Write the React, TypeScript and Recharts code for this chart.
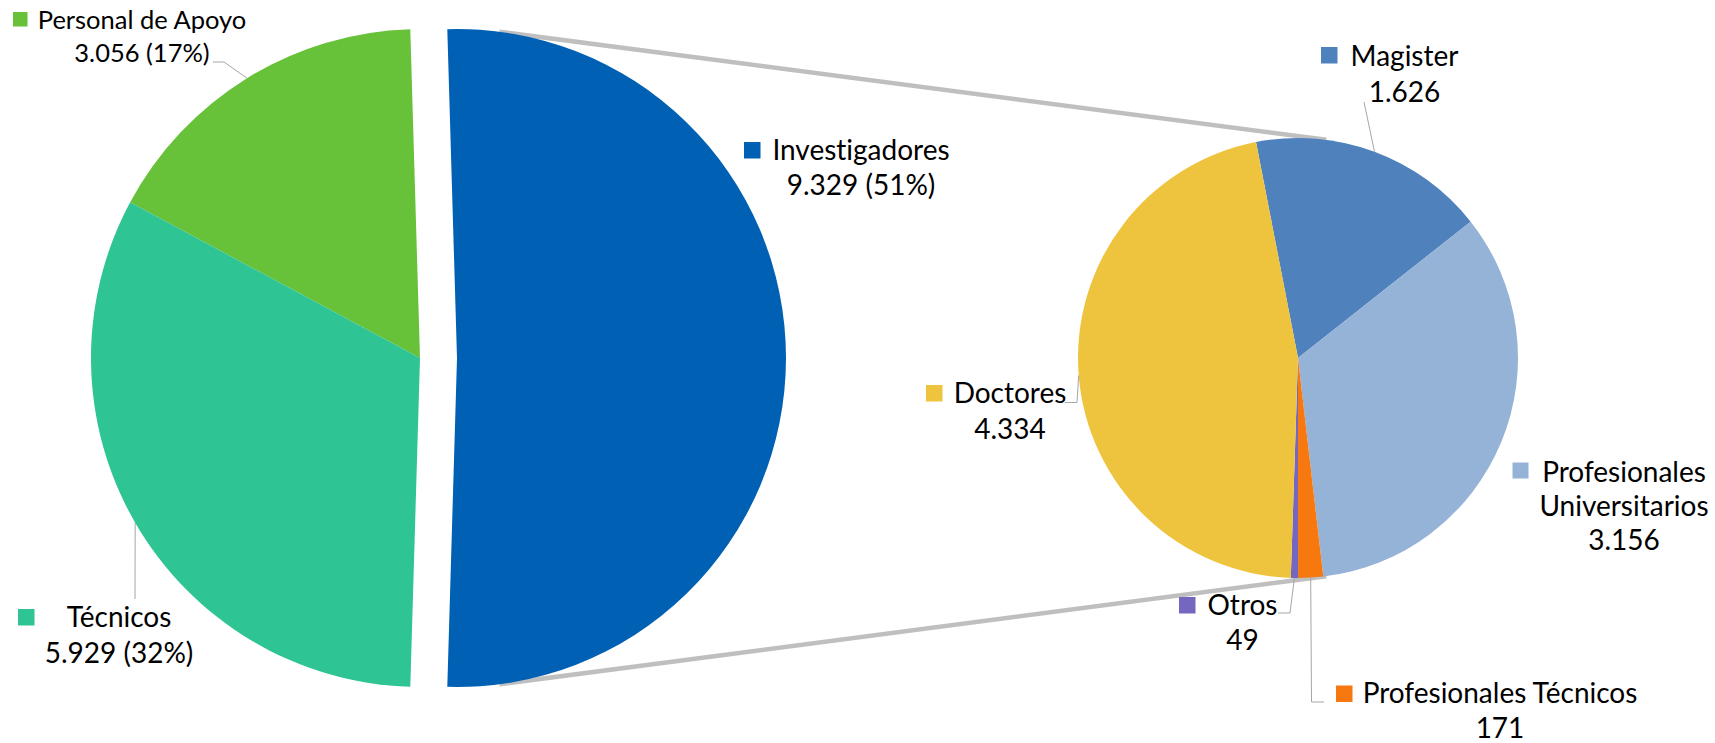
import { PieChart, Pie, Cell } from "recharts";

// ─── Data ─────────────────────────────────────────────────────────────────────

const LEFT_NAMES = ["Investigadores", "Personal de Apoyo", "Técnicos"];
const LEFT_VALUES = [9329, 3056, 5929];
const LEFT_COLORS = ["#0060B3", "#67C23A", "#2EC494"];

const RIGHT_NAMES = ["Magister", "Profesionales Universitarios", "Profesionales Técnicos", "Otros", "Doctores"];
const RIGHT_VALUES = [1626, 3156, 171, 49, 4334];
const RIGHT_COLORS = ["#4F81BD", "#95B3D7", "#F7780F", "#7467BF", "#EEC43E"];

const leftData = LEFT_NAMES.map((name, i) => ({ name, value: LEFT_VALUES[i] }));
const rightData = RIGHT_NAMES.map((name, i) => ({ name, value: RIGHT_VALUES[i] }));

// ─── Layout ───────────────────────────────────────────────────────────────────

const W = 1715;
const H = 743;
const LEFT = { cx: 420, cy: 358, r: 329 };
const SPLIT_CX = 457; // exploded "Investigadores" slice
const RIGHT = { cx: 1298, cy: 358, r: 220 };
const RIGHT_START = 101;
const CONNECT_ANGLE = 82.6;

const FONT = "Lato, 'Open Sans', sans-serif";
const TEXT = "#000";

type LabelBox = {
  lines: string[];
  cx: number;
  y: number;
  lh: number;
  fs: number;
  sq: [number, number, number];
  leader?: [number, number][];
};

// label boxes, placed as in the original
const LABELS: Record<string, LabelBox> = {
  "Personal de Apoyo": { lines: ["Personal de Apoyo"], cx: 142, y: 29, lh: 32.5, fs: 25.5, sq: [13, 12, 14.5], leader: [[213, 62], [224, 62]] },
  "Técnicos": { lines: ["Técnicos"], cx: 119, y: 627, lh: 36, fs: 28, sq: [18, 609, 16.5], leader: [[135, 599]] },
  "Investigadores": { lines: ["Investigadores"], cx: 861, y: 160, lh: 34.5, fs: 28, sq: [744, 142, 16.5] },
  "Magister": { lines: ["Magister"], cx: 1404.5, y: 66, lh: 35.7, fs: 28, sq: [1321, 47, 16.5], leader: [[1364, 102]] },
  "Profesionales Universitarios": { lines: ["Profesionales", "Universitarios"], cx: 1624, y: 481.5, lh: 34.2, fs: 28, sq: [1512.5, 462.5, 16] },
  "Profesionales Técnicos": { lines: ["Profesionales Técnicos"], cx: 1500, y: 703, lh: 35, fs: 28, sq: [1336, 685.5, 16.5], leader: [[1324, 702], [1311.5, 702]] },
  "Otros": { lines: ["Otros"], cx: 1242.5, y: 615, lh: 35, fs: 28, sq: [1179, 597, 16.5], leader: [[1278, 613], [1290, 613]] },
  "Doctores": { lines: ["Doctores"], cx: 1010, y: 402.5, lh: 36.5, fs: 28, sq: [926, 385, 16.5], leader: [[1065, 402.5], [1077, 402.5]] },
};

const RAD = Math.PI / 180;
const polar = (cx: number, cy: number, r: number, a: number) => [cx + r * Math.cos(-a * RAD), cy + r * Math.sin(-a * RAD)];

const fmt = (v: number) => String(v).replace(/\B(?=(\d{3})+(?!\d))/g, ".");

// ─── Label renderer ───────────────────────────────────────────────────────────

function makeLabel(colors: string[], withPct: boolean, show: (i: number) => boolean) {
  return (props: any) => {
    const { cx, cy, outerRadius, midAngle, name, value, percent, index } = props;
    if (!show(index)) return null;
    const box = LABELS[name];
    if (!box) return null;
    const valueText = withPct ? `${fmt(value)} (${Math.round(percent * 100)}%)` : fmt(value);
    const lines = [...box.lines, valueText];
    const [ax, ay] = polar(cx, cy, outerRadius, midAngle);
    const pts = box.leader ? [...box.leader, [ax, ay]] : null;
    return (
      <g key={`lbl-${name}`}>
        {pts && (
          <polyline
            points={pts.map((p) => p.join(",")).join(" ")}
            fill="none"
            stroke="#A6A6A6"
            strokeWidth={1}
          />
        )}
        <rect x={box.sq[0]} y={box.sq[1]} width={box.sq[2]} height={box.sq[2]} fill={colors[index]} />
        {lines.map((t, i) => (
          <text
            key={i}
            x={box.cx}
            y={box.y + i * box.lh}
            textAnchor="middle"
            fontFamily={FONT}
            fontSize={box.fs}
            fill={TEXT}
            style={{ fontVariantLigatures: "none" }}
          >
            {t}
          </text>
        ))}
      </g>
    );
  };
}

// ─── Main ─────────────────────────────────────────────────────────────────────

export default function App() {
  const total = LEFT_VALUES.reduce((a, b) => a + b, 0);
  const leftStart = -(LEFT_VALUES[0] / total) * 180;

  const [t1x, t1y] = polar(SPLIT_CX, LEFT.cy, LEFT.r, CONNECT_ANGLE);
  const [t2x, t2y] = polar(RIGHT.cx, RIGHT.cy, RIGHT.r, CONNECT_ANGLE);
  const [b1x, b1y] = polar(SPLIT_CX, LEFT.cy, LEFT.r, -CONNECT_ANGLE);
  const [b2x, b2y] = polar(RIGHT.cx, RIGHT.cy, RIGHT.r, -CONNECT_ANGLE);

  return (
    <div style={{ position: "absolute", left: 0, top: 0, width: W, height: H, background: "#fff" }}>
      <PieChart width={W} height={H} margin={{ top: 0, right: 0, bottom: 0, left: 0 }}>
        {/* main pie without the split slice */}
        <Pie
          data={leftData}
          dataKey="value"
          nameKey="name"
          cx={LEFT.cx}
          cy={LEFT.cy}
          outerRadius={LEFT.r}
          startAngle={leftStart}
          endAngle={leftStart + 360}
          stroke="none"
          isAnimationActive={false}
          labelLine={false}
          label={makeLabel(LEFT_COLORS, true, (i) => i !== 0)}
        >
          {leftData.map((d, i) => (
            <Cell key={d.name} fill={i === 0 ? "transparent" : LEFT_COLORS[i]} />
          ))}
        </Pie>
        {/* exploded Investigadores slice */}
        <Pie
          data={leftData}
          dataKey="value"
          nameKey="name"
          cx={SPLIT_CX}
          cy={LEFT.cy}
          outerRadius={LEFT.r}
          startAngle={leftStart}
          endAngle={leftStart + 360}
          stroke="none"
          isAnimationActive={false}
          labelLine={false}
          label={makeLabel(LEFT_COLORS, true, (i) => i === 0)}
        >
          {leftData.map((d, i) => (
            <Cell key={d.name} fill={i === 0 ? LEFT_COLORS[i] : "transparent"} />
          ))}
        </Pie>
        {/* breakdown pie */}
        <Pie
          data={rightData}
          dataKey="value"
          nameKey="name"
          cx={RIGHT.cx}
          cy={RIGHT.cy}
          outerRadius={RIGHT.r}
          startAngle={RIGHT_START}
          endAngle={RIGHT_START - 360}
          stroke="none"
          isAnimationActive={false}
          labelLine={false}
          label={makeLabel(RIGHT_COLORS, false, () => true)}
        >
          {rightData.map((d, i) => (
            <Cell key={d.name} fill={RIGHT_COLORS[i]} />
          ))}
        </Pie>
        {/* connector lines */}
        <g>
          <line x1={t1x} y1={t1y} x2={t2x} y2={t2y} stroke="#BFBFBF" strokeWidth={4.5} />
          <line x1={b1x} y1={b1y} x2={b2x} y2={b2y} stroke="#BFBFBF" strokeWidth={4.5} />
        </g>
      </PieChart>
    </div>
  );
}
